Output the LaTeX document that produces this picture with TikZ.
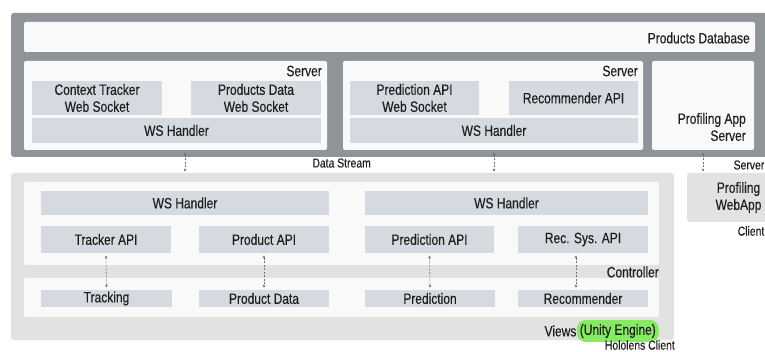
\documentclass[tikz,border=0pt]{standalone}
\usepackage{fontspec}
\setmainfont[FakeStretch=0.8, FakeBold=0.3]{Liberation Sans}
\usetikzlibrary{arrows.meta}

\definecolor{framegray}{HTML}{8F9498}
\definecolor{panelwhite}{HTML}{F9F9F9}
\definecolor{compblue}{HTML}{D4DADF}
\definecolor{clientgray}{HTML}{E2E2E2}
\definecolor{hlgreen}{HTML}{86EA62}
\definecolor{txtdark}{HTML}{1E1E1E}
\definecolor{arrowgray}{HTML}{707478}

\newcommand{\bigtxt}{\fontsize{15}{17}\selectfont}
\newcommand{\smalltxt}{\fontsize{13}{13}\selectfont}

\begin{document}
\begin{tikzpicture}[x=1pt, y=-1pt,
    every node/.style={text=txtdark, font=\bigtxt, inner sep=0pt},
    size/.style 2 args={minimum width=#1, minimum height=#2},
    frame/.style={fill=framegray, rounded corners=3pt},
    client/.style={fill=clientgray, rounded corners=3pt, align=center},
    panel/.style={fill=panelwhite, rounded corners=2pt},
    comp/.style={fill=compblue, align=center},
    small/.style={font=\smalltxt},
    link/.style={{Latex[length=3pt,width=3pt]}-{Latex[length=3pt,width=3pt]},
        draw=arrowgray, line width=0.6pt, dash pattern=on 2pt off 1.5pt,
        shorten <=2pt, shorten >=2pt},
    stream/.style={link, shorten <=-5pt, shorten >=1pt}]
    \useasboundingbox (0,0) rectangle (765,352);

    % server side
    \path (390.5, 85) node [frame, size={759}{144}] (topframe) {};
    \path (389.5, 37) node [panel, size={731}{30}] (db) {};
    \path (750, 38) node [anchor=east] (dblabel) {Products Database};

    \path (175.5,105.5) node [panel, size={303}{89}] (srvA) {};
    \path (322, 71) node [anchor=east] (srvAlabel) {Server};
    \path ( 97, 98) node [comp, size={130}{34}] (ctxws) {Context Tracker\\Web Socket};
    \path (256, 98) node [comp, size={130}{34}] (prodws) {Products Data\\Web Socket};
    \path (176.5,130.5) node [comp, size={289}{25}] (wsA) {WS Handler};

    \path (493,105.5) node [panel, size={300}{89}] (srvB) {};
    \path (638, 71) node [anchor=east] (srvBlabel) {Server};
    \path (414.5, 98) node [comp, size={129}{34}] (predws) {Prediction API\\Web Socket};
    \path (573.5, 98) node [comp, size={129}{34}] (recapi) {Recommender API};
    \path (494,130.5) node [comp, size={288}{25}] (wsB) {WS Handler};

    \path (703,105.5) node [panel, size={102}{89}] (profsrv) {};
    \path (746,127) node [anchor=east, align=right] (profsrvlabel) {Profiling App\\Server};

    \path (371,163) node [anchor=east, small] (streamlabel) {Data Stream};
    \path (764.5,165) node [anchor=east, small] (srvlabel) {Server};

    % hololens client
    \path (342.5,256.5) node [client, size={663}{167}] (holo) {};
    \path (341.5,223.5) node [panel, size={635}{83}] (ctrl) {};
    \path (341.5,297.5) node [panel, size={635}{39}] (views) {};
    \path (659,272) node [anchor=east] (ctrllabel) {Controller};

    \path (185,203) node [comp, size={288}{24}] (wsC) {WS Handler};
    \path (506.5,203) node [comp, size={283}{24}] (wsD) {WS Handler};

    \path (106,239.5) node [comp, size={130}{27}] (trkapi) {Tracker API};
    \path (264,239.5) node [comp, size={130}{27}] (prodapi) {Product API};
    \path (429.5,239.5) node [comp, size={129}{27}] (predapi) {Prediction API};
    \path (583,239.5) node [comp, size={130}{27}] (recsys) {Rec. Sys. API};

    \path (106.5,298.5) node [comp, size={131}{17}] (tracking) {Tracking};
    \path (264,298.5) node [comp, size={130}{17}] (proddata) {Product Data};
    \path (430,298.5) node [comp, size={130}{17}] (prediction) {Prediction};
    \path (583,298.5) node [comp, size={130}{17}] (recommender) {Recommender};

    \path (659,331) node [anchor=east, fill=hlgreen, rounded corners=9pt,
        inner xsep=3pt, inner ysep=4pt] (unity) {(Unity Engine)};
    \path (unity.west) node [anchor=east] (viewslabel) {Views};
    \path (675,345) node [anchor=east, small] (hololabel) {Hololens Client};

    % profiling web app
    \path (738.5,197.5) node [client, size={103}{49}] (profweb) {Profiling\\WebApp};
    \path (764.5,231) node [anchor=east, small] (clientlabel) {Client};

    % data streams
    \draw [stream] (wsC |- topframe.south) -- (wsC |- holo.north);
    \draw [stream] (wsB |- topframe.south) -- (wsB |- holo.north);
    \draw [stream] (profsrv |- topframe.south) -- (profsrv |- profweb.north);

    \draw [link] (trkapi.south) -- (tracking.north);
    \draw [link] (prodapi.south) -- (proddata.north);
    \draw [link] (predapi.south) -- (prediction.north);
    \draw [link] ([xshift=-7pt]recsys.south) -- ([xshift=-7pt]recommender.north);
\end{tikzpicture}
\end{document}
